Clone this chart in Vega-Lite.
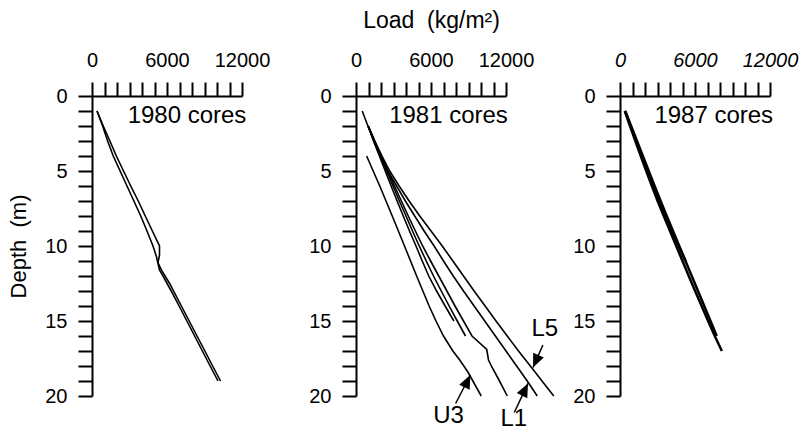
{
  "$schema": "https://vega.github.io/schema/vega-lite/v6.json",
  "background": "white",
  "padding": {"left": 7, "top": 9, "right": 5, "bottom": 0},
  "bounds": "flush",
  "spacing": 114,
  "config": {
    "font": "Liberation Sans",
    "view": {"stroke": null},
    "axis": {
      "domainColor": "black", "domainWidth": 2, "tickColor": "black", "tickWidth": 2,
      "labelColor": "black", "titleColor": "black", "labelFontSize": 20,
      "labelFont": "Liberation Sans", "titleFont": "Liberation Sans", "titleFontWeight": "normal",
      "grid": false, "labelOverlap": false, "labelFlush": false, "tickSize": 14
    },
    "text": {"font": "Liberation Sans", "color": "black"}
  },
  "datasets": {
    "p1": [
      {"core": "A", "depth": 1, "load": 400}, {"core": "A", "depth": 2, "load": 900}, {"core": "A", "depth": 3, "load": 1430},
      {"core": "A", "depth": 4, "load": 1950}, {"core": "A", "depth": 5, "load": 2520}, {"core": "A", "depth": 6, "load": 3100},
      {"core": "A", "depth": 7, "load": 3700}, {"core": "A", "depth": 8, "load": 4260}, {"core": "A", "depth": 9, "load": 4830},
      {"core": "A", "depth": 10, "load": 5400}, {"core": "A", "depth": 10.6, "load": 5400}, {"core": "A", "depth": 11.1, "load": 5280},
      {"core": "A", "depth": 11.6, "load": 5550}, {"core": "A", "depth": 12.5, "load": 6210}, {"core": "A", "depth": 14, "load": 7150},
      {"core": "A", "depth": 15, "load": 7775}, {"core": "A", "depth": 16, "load": 8400}, {"core": "A", "depth": 17, "load": 9030},
      {"core": "A", "depth": 18, "load": 9650}, {"core": "A", "depth": 19, "load": 10280},
      {"core": "B", "depth": 1, "load": 400}, {"core": "B", "depth": 2, "load": 850}, {"core": "B", "depth": 3, "load": 1250},
      {"core": "B", "depth": 4, "load": 1700}, {"core": "B", "depth": 5, "load": 2250}, {"core": "B", "depth": 6, "load": 2800},
      {"core": "B", "depth": 7, "load": 3350}, {"core": "B", "depth": 8, "load": 3900}, {"core": "B", "depth": 9, "load": 4400},
      {"core": "B", "depth": 10, "load": 4880}, {"core": "B", "depth": 10.7, "load": 5150}, {"core": "B", "depth": 11.6, "load": 5400},
      {"core": "B", "depth": 12, "load": 5680}, {"core": "B", "depth": 13, "load": 6340}, {"core": "B", "depth": 14, "load": 6970},
      {"core": "B", "depth": 15, "load": 7590}, {"core": "B", "depth": 16, "load": 8210}, {"core": "B", "depth": 17, "load": 8830},
      {"core": "B", "depth": 18, "load": 9450}, {"core": "B", "depth": 19, "load": 10080}
    ],
    "p2": [
      {"core": "U3", "depth": 4, "load": 850}, {"core": "U3", "depth": 6, "load": 1900}, {"core": "U3", "depth": 8, "load": 2900},
      {"core": "U3", "depth": 10, "load": 3880}, {"core": "U3", "depth": 12, "load": 4850}, {"core": "U3", "depth": 14, "load": 5850},
      {"core": "U3", "depth": 15, "load": 6400}, {"core": "U3", "depth": 16, "load": 7000}, {"core": "U3", "depth": 17, "load": 7750},
      {"core": "U3", "depth": 17.6, "load": 8300}, {"core": "U3", "depth": 18.4, "load": 8950}, {"core": "U3", "depth": 19, "load": 9350},
      {"core": "U3", "depth": 20, "load": 10020},
      {"core": "A", "depth": 1, "load": 500}, {"core": "A", "depth": 2, "load": 950}, {"core": "A", "depth": 3, "load": 1400},
      {"core": "A", "depth": 4, "load": 1870}, {"core": "A", "depth": 5, "load": 2340}, {"core": "A", "depth": 6, "load": 2810},
      {"core": "A", "depth": 7, "load": 3290}, {"core": "A", "depth": 8, "load": 3780}, {"core": "A", "depth": 9, "load": 4280},
      {"core": "A", "depth": 10, "load": 4800}, {"core": "A", "depth": 11, "load": 5300}, {"core": "A", "depth": 12, "load": 5820},
      {"core": "A", "depth": 13, "load": 6450}, {"core": "A", "depth": 14, "load": 7130}, {"core": "A", "depth": 15, "load": 7830},
      {"core": "B", "depth": 2, "load": 970}, {"core": "B", "depth": 3, "load": 1450}, {"core": "B", "depth": 4, "load": 1950},
      {"core": "B", "depth": 5, "load": 2450}, {"core": "B", "depth": 6, "load": 2960}, {"core": "B", "depth": 7, "load": 3470},
      {"core": "B", "depth": 8, "load": 4000}, {"core": "B", "depth": 9, "load": 4520}, {"core": "B", "depth": 10, "load": 5060},
      {"core": "B", "depth": 11, "load": 5620}, {"core": "B", "depth": 12, "load": 6200}, {"core": "B", "depth": 13, "load": 6820},
      {"core": "B", "depth": 14, "load": 7450}, {"core": "B", "depth": 15, "load": 8100}, {"core": "B", "depth": 16, "load": 8760},
      {"core": "C", "depth": 2, "load": 990}, {"core": "C", "depth": 3, "load": 1500}, {"core": "C", "depth": 4, "load": 2020},
      {"core": "C", "depth": 5, "load": 2550}, {"core": "C", "depth": 6, "load": 3080}, {"core": "C", "depth": 7, "load": 3630},
      {"core": "C", "depth": 8, "load": 4180}, {"core": "C", "depth": 9, "load": 4750}, {"core": "C", "depth": 10, "load": 5330},
      {"core": "C", "depth": 11, "load": 5970}, {"core": "C", "depth": 12, "load": 6620}, {"core": "C", "depth": 13, "load": 7270},
      {"core": "C", "depth": 14, "load": 7920}, {"core": "C", "depth": 15, "load": 8600}, {"core": "C", "depth": 16, "load": 9280},
      {"core": "C", "depth": 16.9, "load": 10460}, {"core": "C", "depth": 17.6, "load": 10600}, {"core": "C", "depth": 18.05, "load": 10860},
      {"core": "C", "depth": 19, "load": 11480}, {"core": "C", "depth": 20, "load": 12100},
      {"core": "L1", "depth": 2, "load": 970}, {"core": "L1", "depth": 3, "load": 1450}, {"core": "L1", "depth": 4, "load": 1980},
      {"core": "L1", "depth": 5, "load": 2550}, {"core": "L1", "depth": 6, "load": 3250}, {"core": "L1", "depth": 7, "load": 3950},
      {"core": "L1", "depth": 8, "load": 4700}, {"core": "L1", "depth": 9, "load": 5450}, {"core": "L1", "depth": 10, "load": 6250},
      {"core": "L1", "depth": 11, "load": 7000}, {"core": "L1", "depth": 12, "load": 7780}, {"core": "L1", "depth": 13, "load": 8600},
      {"core": "L1", "depth": 14, "load": 9450}, {"core": "L1", "depth": 15, "load": 10300}, {"core": "L1", "depth": 16, "load": 11150},
      {"core": "L1", "depth": 17, "load": 12000}, {"core": "L1", "depth": 18, "load": 12850}, {"core": "L1", "depth": 19, "load": 13700},
      {"core": "L1", "depth": 20, "load": 14500},
      {"core": "L5", "depth": 2, "load": 970}, {"core": "L5", "depth": 3, "load": 1500}, {"core": "L5", "depth": 4, "load": 2080},
      {"core": "L5", "depth": 5, "load": 2700}, {"core": "L5", "depth": 6, "load": 3450}, {"core": "L5", "depth": 7, "load": 4250},
      {"core": "L5", "depth": 8, "load": 5100}, {"core": "L5", "depth": 9, "load": 6000}, {"core": "L5", "depth": 10, "load": 6900},
      {"core": "L5", "depth": 11, "load": 7750}, {"core": "L5", "depth": 12, "load": 8600}, {"core": "L5", "depth": 13, "load": 9450},
      {"core": "L5", "depth": 14, "load": 10330}, {"core": "L5", "depth": 15, "load": 11200}, {"core": "L5", "depth": 16, "load": 12100},
      {"core": "L5", "depth": 17, "load": 13000}, {"core": "L5", "depth": 18, "load": 13950}, {"core": "L5", "depth": 19, "load": 14880},
      {"core": "L5", "depth": 20, "load": 15820}
    ],
    "p3": [
      {"core": "A", "depth": 1, "load": 380}, {"core": "A", "depth": 2, "load": 800}, {"core": "A", "depth": 3, "load": 1230},
      {"core": "A", "depth": 4, "load": 1660}, {"core": "A", "depth": 5, "load": 2100}, {"core": "A", "depth": 6, "load": 2550},
      {"core": "A", "depth": 7, "load": 3010}, {"core": "A", "depth": 8, "load": 3500}, {"core": "A", "depth": 9, "load": 4000},
      {"core": "A", "depth": 10, "load": 4500}, {"core": "A", "depth": 11, "load": 5000}, {"core": "A", "depth": 12, "load": 5500},
      {"core": "A", "depth": 13, "load": 6010}, {"core": "A", "depth": 14, "load": 6530}, {"core": "A", "depth": 15, "load": 7050},
      {"core": "A", "depth": 16, "load": 7580}, {"core": "A", "depth": 17, "load": 8150},
      {"core": "B", "depth": 1, "load": 420}, {"core": "B", "depth": 2, "load": 890}, {"core": "B", "depth": 3, "load": 1360},
      {"core": "B", "depth": 4, "load": 1830}, {"core": "B", "depth": 5, "load": 2300}, {"core": "B", "depth": 6, "load": 2770},
      {"core": "B", "depth": 7, "load": 3250}, {"core": "B", "depth": 8, "load": 3740}, {"core": "B", "depth": 9, "load": 4240},
      {"core": "B", "depth": 10, "load": 4740}, {"core": "B", "depth": 11, "load": 5240}, {"core": "B", "depth": 12, "load": 5740},
      {"core": "B", "depth": 13, "load": 6240}, {"core": "B", "depth": 14, "load": 6740}, {"core": "B", "depth": 15, "load": 7240},
      {"core": "B", "depth": 16, "load": 7740},
      {"core": "C", "depth": 1, "load": 400}, {"core": "C", "depth": 3, "load": 1300}, {"core": "C", "depth": 5, "load": 2200},
      {"core": "C", "depth": 7, "load": 3140}, {"core": "C", "depth": 9, "load": 4130}, {"core": "C", "depth": 11, "load": 5250}
    ],
    "arrows": [
      {"label": "U3", "tipLoad": 9150, "tipDepth": 18.6, "tailLoad": 7970, "tailDepth": 20.5, "textLoad": 7400, "textDepth": 21.3},
      {"label": "L1", "tipLoad": 13760, "tipDepth": 19.16, "tailLoad": 12660, "tailDepth": 21.1, "textLoad": 12620, "textDepth": 21.55},
      {"label": "L5", "tipLoad": 14160, "tipDepth": 18.1, "tailLoad": 14950, "tailDepth": 16.6, "textLoad": 15100, "textDepth": 15.5}
    ]
  },
  "hconcat": [
    {
      "width": 150, "height": 300,
      "layer": [
        {
          "data": {"name": "p1"},
          "mark": {"type": "line", "color": "black", "strokeWidth": 1.6, "clip": false},
          "encoding": {
            "x": {"field": "load", "type": "quantitative", "scale": {"domain": [0, 12000], "nice": false, "zero": false},
              "axis": {"orient": "top", "title": null, "format": "d", "labelOverlap": false, "labelPadding": 12, "tickCount": 40,
                "values": [0,1000,2000,3000,4000,5000,6000,7000,8000,9000,10000,11000,12000],
                "labelExpr": "datum.value % 6000 === 0 ? datum.label : ''",
                "encode": {"ticks": {"update": {"y2": {"signal": "datum.value % 6000 === 0 ? -14 : -8"}}}}}},
            "y": {"field": "depth", "type": "quantitative", "scale": {"domain": [0, 20], "reverse": true, "nice": false},
              "axis": {"title": "Depth\u00a0\u00a0(m)", "titleFontSize": 22, "titlePadding": 14, "format": "d", "labelOverlap": false, "labelPadding": 11, "tickCount": 40,
                "values": [0,1,2,3,4,5,6,7,8,9,10,11,12,13,14,15,16,17,18,19,20],
                "labelExpr": "datum.value % 5 === 0 ? datum.label : ''",
                "encode": {"ticks": {"update": {"x2": {"signal": "datum.value % 5 === 0 ? -14 : -8"}}}}}},
            "detail": {"field": "core"},
            "order": {"field": "depth", "type": "quantitative"}
          }
        },
        {
          "data": {"values": [{"label": "1980 cores", "load": 12350, "depth": 1.8}]},
          "mark": {"type": "text", "align": "right", "baseline": "alphabetic", "fontSize": 24},
          "encoding": {
            "x": {"field": "load", "type": "quantitative"},
            "y": {"field": "depth", "type": "quantitative"},
            "text": {"field": "label"}
          }
        }
      ]
    },
    {
      "width": 150, "height": 300,
      "layer": [
        {
          "data": {"name": "p2"},
          "mark": {"type": "line", "color": "black", "strokeWidth": 1.6, "clip": false},
          "encoding": {
            "x": {"field": "load", "type": "quantitative", "scale": {"domain": [0, 12000], "nice": false, "zero": false},
              "axis": {"orient": "top", "title": "Load\u00a0\u00a0(kg/m²)", "titleFontSize": 23, "titlePadding": 18, "format": "d", "labelOverlap": false, "labelPadding": 12, "tickCount": 40,
                "values": [0,1000,2000,3000,4000,5000,6000,7000,8000,9000,10000,11000,12000],
                "labelExpr": "datum.value % 6000 === 0 ? datum.label : ''",
                "encode": {"ticks": {"update": {"y2": {"signal": "datum.value % 6000 === 0 ? -14 : -8"}}}}}},
            "y": {"field": "depth", "type": "quantitative", "scale": {"domain": [0, 20], "reverse": true, "nice": false},
              "axis": {"title": null, "format": "d", "labelOverlap": false, "labelPadding": 11, "tickCount": 40,
                "values": [0,1,2,3,4,5,6,7,8,9,10,11,12,13,14,15,16,17,18,19,20],
                "labelExpr": "datum.value % 5 === 0 ? datum.label : ''",
                "encode": {"ticks": {"update": {"x2": {"signal": "datum.value % 5 === 0 ? -14 : -8"}}}}}},
            "detail": {"field": "core"},
            "order": {"field": "depth", "type": "quantitative"}
          }
        },
        {
          "data": {"values": [{"label": "1981 cores", "load": 12150, "depth": 1.8}]},
          "mark": {"type": "text", "align": "right", "baseline": "alphabetic", "fontSize": 24},
          "encoding": {
            "x": {"field": "load", "type": "quantitative"},
            "y": {"field": "depth", "type": "quantitative"},
            "text": {"field": "label"}
          }
        },
        {
          "data": {"name": "arrows"},
          "mark": {"type": "rule", "color": "black", "strokeWidth": 1.5},
          "encoding": {
            "x": {"field": "tailLoad", "type": "quantitative"},
            "y": {"field": "tailDepth", "type": "quantitative"},
            "x2": {"field": "tipLoad"},
            "y2": {"field": "tipDepth"}
          }
        },
        {
          "data": {"name": "arrows"},
          "transform": [{"filter": "datum.label !== 'L5'"}],
          "mark": {"type": "point", "filled": true, "color": "black", "opacity": 1, "size": 1500, "angle": 26, "shape": "M0,0L0.3,0.7L-0.3,0.7Z"},
          "encoding": {
            "x": {"field": "tipLoad", "type": "quantitative"},
            "y": {"field": "tipDepth", "type": "quantitative"}
          }
        },
        {
          "data": {"name": "arrows"},
          "transform": [{"filter": "datum.label === 'L5'"}],
          "mark": {"type": "point", "filled": true, "color": "black", "opacity": 1, "size": 1500, "angle": 204, "shape": "M0,0L0.3,0.7L-0.3,0.7Z"},
          "encoding": {
            "x": {"field": "tipLoad", "type": "quantitative"},
            "y": {"field": "tipDepth", "type": "quantitative"}
          }
        },
        {
          "data": {"name": "arrows"},
          "mark": {"type": "text", "align": "center", "baseline": "middle", "fontSize": 24},
          "encoding": {
            "x": {"field": "textLoad", "type": "quantitative"},
            "y": {"field": "textDepth", "type": "quantitative"},
            "text": {"field": "label"}
          }
        }
      ]
    },
    {
      "width": 150, "height": 300,
      "layer": [
        {
          "data": {"name": "p3"},
          "mark": {"type": "line", "color": "black", "strokeWidth": 2.5, "clip": false},
          "encoding": {
            "x": {"field": "load", "type": "quantitative", "scale": {"domain": [0, 12000], "nice": false, "zero": false},
              "axis": {"orient": "top", "title": null, "format": "d", "labelFontStyle": "italic", "labelOverlap": false, "labelPadding": 12, "tickCount": 40,
                "values": [0,1000,2000,3000,4000,5000,6000,7000,8000,9000,10000,11000,12000],
                "labelExpr": "datum.value % 6000 === 0 ? datum.label : ''",
                "encode": {"ticks": {"update": {"y2": {"signal": "datum.value % 6000 === 0 ? -14 : -8"}}}}}},
            "y": {"field": "depth", "type": "quantitative", "scale": {"domain": [0, 20], "reverse": true, "nice": false},
              "axis": {"title": null, "format": "d", "labelOverlap": false, "labelPadding": 11, "tickCount": 40,
                "values": [0,1,2,3,4,5,6,7,8,9,10,11,12,13,14,15,16,17,18,19,20],
                "labelExpr": "datum.value % 5 === 0 ? datum.label : ''",
                "encode": {"ticks": {"update": {"x2": {"signal": "datum.value % 5 === 0 ? -14 : -8"}}}}}},
            "detail": {"field": "core"},
            "order": {"field": "depth", "type": "quantitative"}
          }
        },
        {
          "data": {"values": [{"label": "1987 cores", "load": 12250, "depth": 1.8}]},
          "mark": {"type": "text", "align": "right", "baseline": "alphabetic", "fontSize": 24},
          "encoding": {
            "x": {"field": "load", "type": "quantitative"},
            "y": {"field": "depth", "type": "quantitative"},
            "text": {"field": "label"}
          }
        }
      ]
    }
  ]
}
